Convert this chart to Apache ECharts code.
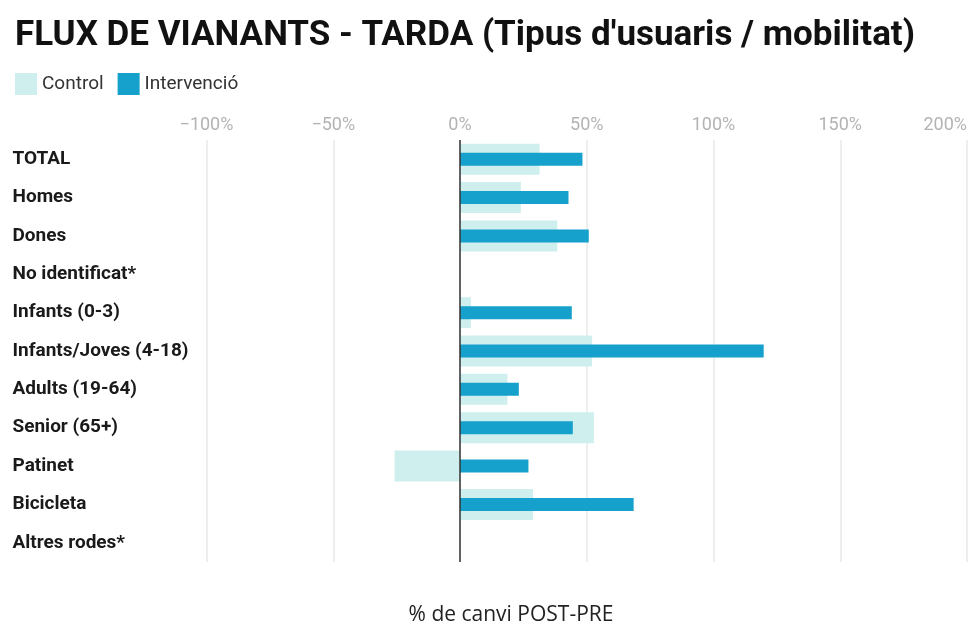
<!DOCTYPE html>
<html>
<head>
<meta charset="utf-8">
<script src="https://cdn.jsdelivr.net/npm/echarts@6/dist/echarts.min.js"></script>
<style>
  html, body { margin: 0; padding: 0; background: #fff; }
  #chart { width: 970px; height: 624px; }
</style>
</head>
<body>
<div id="chart"></div>
<script>
// categories, top to bottom
const categories = [
    'TOTAL', 'Homes', 'Dones', 'No identificat*', 'Infants (0-3)',
    'Infants/Joves (4-18)', 'Adults (19-64)', 'Senior (65+)',
    'Patinet', 'Bicicleta', 'Altres rodes*'
];
// % de canvi POST-PRE
const controlValues = [31.4, 24, 38.4, null, 4.3, 52.1, 18.7, 52.8, -25.8, 28.8, null];
const intervValues = [48.3, 42.8, 50.8, null, 44.1, 119.8, 23.2, 44.5, 27, 68.5, null];

const CONTROL = '#cfeeee';
const INTERV = '#16a0cc';

const chart = echarts.init(document.getElementById('chart'));

const option = {
    animation: false,
    title: [
        {
            text: "FLUX DE VIANANTS - TARDA (Tipus d'usuaris / mobilitat)",
            left: 10,
            top: 14,
            textStyle: { fontFamily: 'Roboto', fontWeight: 'bold', fontSize: 35, color: '#111' }
        },
        {
            text: '% de canvi POST-PRE',
            left: 506,
            top: 600,
            textAlign: 'center',
            textStyle: { fontFamily: 'Open Sans', fontWeight: 'normal', fontSize: 21, color: '#222' }
        }
    ],
    legend: {
        left: 10,
        top: 68,
        icon: 'rect',
        itemWidth: 22,
        itemHeight: 22,
        itemGap: 14,
        textStyle: { fontFamily: 'Roboto', fontSize: 19, color: '#333' },
        data: ['Control', 'Intervenció']
    },
    grid: { left: 206.5, right: 1.5, top: 140, bottom: 62 },
    xAxis: {
        type: 'value',
        position: 'top',
        min: -100,
        max: 200,
        interval: 50,
        axisLine: { show: false },
        axisTick: { show: false },
        axisLabel: {
            margin: 6,
            formatter: v => (v < 0 ? '\u2212' + (-v) : v) + '%',
            fontFamily: 'Roboto',
            fontSize: 18,
            color: '#b3b3b3',
            alignMaxLabel: 'right'
        },
        splitLine: { lineStyle: { color: '#e8e8e8', width: 1.5 } }
    },
    yAxis: [
        {
            type: 'category',
            data: categories,
            inverse: true,
            axisLine: { show: false },
            axisTick: { show: false },
            axisLabel: {
                align: 'left',
                margin: 194,
                fontFamily: 'Roboto',
                fontWeight: 'bold',
                fontSize: 19,
                color: '#1a1a1a'
            }
        },
        {
            type: 'category',
            data: categories,
            inverse: true,
            show: false
        }
    ],
    series: [
        {
            name: 'Control',
            type: 'bar',
            data: controlValues,
            barWidth: 31,
            itemStyle: { color: CONTROL },
            markLine: {
                silent: true,
                symbol: 'none',
                label: { show: false },
                lineStyle: { color: '#333', width: 1.5, type: 'solid' },
                data: [{ xAxis: 0 }]
            }
        },
        {
            name: 'Intervenció',
            type: 'bar',
            yAxisIndex: 1,
            data: intervValues,
            barWidth: 13,
            itemStyle: { color: INTERV }
        }
    ]
};

chart.setOption(option);
</script>
</body>
</html>
